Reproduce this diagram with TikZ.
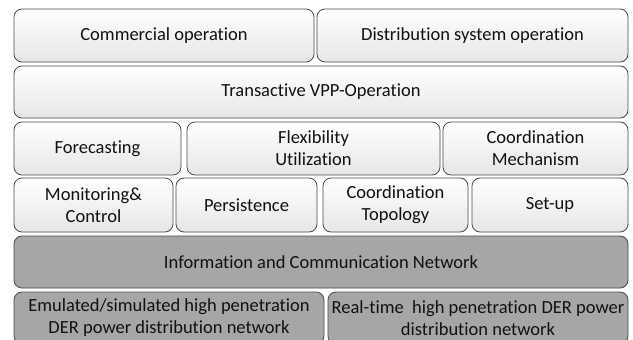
\documentclass[tikz,border=0pt]{standalone}
\usepackage{fontspec}
\setmainfont{Carlito}[Ligatures=NoCommon]
\definecolor{edgegray}{HTML}{4A4A4A}
\definecolor{darkfill}{HTML}{A6A6A6}
\definecolor{lightbot}{HTML}{E6E6E6}
\definecolor{txt}{HTML}{111111}
\tikzset{
  layer/.style={draw=edgegray, line width=0.8pt, rounded corners=8pt, align=center,
    inner sep=2pt, text=txt, font=\fontsize{18.5}{22}\selectfont},
  wbox/.style={layer, top color=white, bottom color=lightbot},
  gbox/.style={layer, fill=darkfill},
}
\begin{document}
\begin{tikzpicture}[x=1pt,y=-1pt]
\useasboundingbox (0,0) rectangle (633,340);
\clip (0,0) rectangle (633,340);
\fill[white] (0,0) rectangle (633,340);
% row 1
\node[wbox, minimum width=300pt, minimum height=53pt] (comm) at (164,35.5) {Commercial operation};
\node[wbox, minimum width=311pt, minimum height=53pt] (dist) at (472.5,35.5) {Distribution system operation};
% row 2
\node[wbox, minimum width=614pt, minimum height=52pt] (tvpp) at (321,92) {Transactive VPP-Operation};
% row 3
\node[wbox, minimum width=167pt, minimum height=53pt] (fore) at (97.5,148.5) {Forecasting};
\node[wbox, minimum width=253pt, minimum height=53pt] (flex) at (313.5,148.5) {Flexibility\\Utilization};
\node[wbox, minimum width=185pt, minimum height=53pt] (cmech) at (535.5,148.5) {Coordination\\Mechanism};
% row 4
\node[wbox, minimum width=159pt, minimum height=54pt] (mon) at (93.5,205) {Monitoring\&\\Control};
\node[wbox, minimum width=141pt, minimum height=54pt] (pers) at (246.5,205) {Persistence};
\node[wbox, minimum width=145pt, minimum height=54pt] (ctop) at (395.5,205) {Coordination\\Topology};
\node[wbox, minimum width=156pt, minimum height=54pt] (setup) at (550,205) {Set-up};
% row 5
\node[gbox, minimum width=614pt, minimum height=52pt] (icn) at (321,262) {Information and Communication Network};
% row 6
\node[gbox, minimum width=310pt, minimum height=52pt] (emu) at (169,318) {Emulated/simulated high penetration\\DER power distribution network};
\node[gbox, minimum width=300pt, minimum height=52pt] (rt) at (478,318) {Real-time\ \ high penetration DER power\\distribution network};
\end{tikzpicture}
\end{document}
